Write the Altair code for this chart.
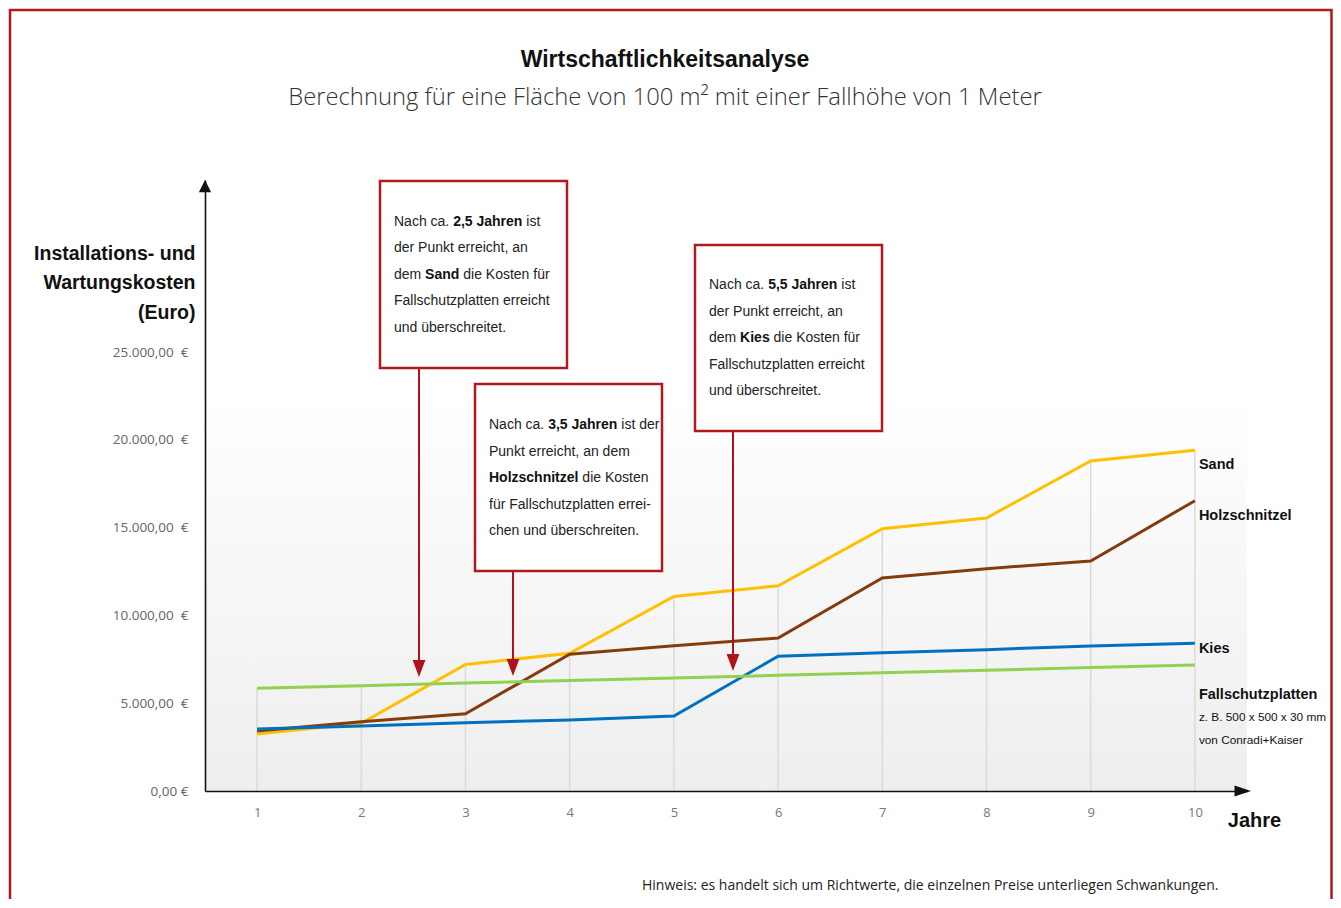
import altair as alt
import pandas as pd

# ---------------- data ----------------
years = [1, 2, 3, 4, 5, 6, 7, 8, 9, 10]
series_names = ["Sand", "Holzschnitzel", "Kies", "Fallschutzplatten"]
series_colors = ["#FFC000", "#843C0C", "#0070C0", "#92D050"]
sand = [3250, 3860, 7210, 7840, 11080, 11690, 14940, 15550, 18790, 19400]
holzschnitzel = [3420, 3950, 4400, 7790, 8270, 8710, 12130, 12660, 13100, 16530]
kies = [3530, 3700, 3890, 4040, 4270, 7670, 7880, 8050, 8260, 8410]
fallschutzplatten = [5850, 6000, 6145, 6290, 6440, 6585, 6730, 6880, 7030, 7175]
y_ticks = [0, 5000, 10000, 15000, 20000, 25000]
y_tick_labels = ["0,00\u00a0€", "5.000,00\u00a0\u00a0€", "10.000,00\u00a0\u00a0€",
                 "15.000,00\u00a0\u00a0€", "20.000,00\u00a0\u00a0€", "25.000,00\u00a0\u00a0€"]

title_text = "Wirtschaftlichkeitsanalyse"
subtitle_text = "Berechnung für eine Fläche von 100 m² mit einer Fallhöhe von 1 Meter"
y_title = ["Installations- und", "Wartungskosten", "(Euro)"]
x_title = "Jahre"
footnote = "Hinweis: es handelt sich um Richtwerte, die einzelnen Preise unterliegen Schwankungen."

# annotation texts: list of lines, each a list of (text, bold)
notes = [
    [[("Nach ca.", False), ("2,5 Jahren", True), ("ist", False)],
     [("der Punkt erreicht, an", False)],
     [("dem", False), ("Sand", True), ("die Kosten für", False)],
     [("Fallschutzplatten erreicht", False)],
     [("und überschreitet.", False)]],
    [[("Nach ca.", False), ("3,5 Jahren", True), ("ist der", False)],
     [("Punkt erreicht, an dem", False)],
     [("Holzschnitzel", True), ("die Kosten", False)],
     [("für Fallschutzplatten errei-", False)],
     [("chen und überschreiten.", False)]],
    [[("Nach ca.", False), ("5,5 Jahren", True), ("ist", False)],
     [("der Punkt erreicht, an", False)],
     [("dem", False), ("Kies", True), ("die Kosten für", False)],
     [("Fallschutzplatten erreicht", False)],
     [("und überschreitet.", False)]],
]

# ---------------- layout ----------------
PLOT_LEFT, PLOT_TOP, W, H = 205, 180, 1042, 611
X_MIN, X_MAX = 0.5, 10.5
PX_PER_EUR = 439 / 25000
Y_MAX = H / PX_PER_EUR


def xd(px):
    return X_MIN + (px - PLOT_LEFT) * (X_MAX - X_MIN) / W


def yd(py):
    return (PLOT_TOP + H - py) / PX_PER_EUR


RED = "#B3181D"
COND = "Liberation Sans"
SANS = "Open Sans"

# approximate advance widths (Liberation Sans / Arial metrics, per 1000 em)
_REG = {" ": 278, ",": 278, ".": 278, "-": 333, "+": 584}
for c in "0123456789":
    _REG[c] = 556
_REG.update({"N": 722, "P": 667, "F": 611, "H": 722, "K": 667, "S": 667, "J": 500,
             "a": 556, "b": 556, "c": 500, "d": 556, "e": 556, "f": 278, "g": 556, "h": 556,
             "i": 222, "j": 222, "k": 500, "l": 222, "m": 833, "n": 556, "o": 556, "p": 556,
             "r": 333, "s": 500, "t": 278, "u": 556, "ü": 556, "v": 500, "w": 722, "x": 500,
             "y": 500, "z": 500})
_BOLD = dict(_REG)
_BOLD.update({"J": 556, "K": 722, "H": 722, "S": 667, "b": 611, "c": 556, "d": 611,
              "f": 333, "g": 611, "h": 611, "i": 278, "j": 278, "k": 556, "l": 278,
              "m": 889, "n": 611, "o": 611, "p": 611, "r": 389, "s": 556, "t": 333, "u": 611})


def text_width(s, bold, size):
    tbl = _BOLD if bold else _REG
    return sum(tbl.get(ch, 556) for ch in s) / 1000 * size


NOTE_SIZE = 14
box_px = [(380, 181, 567, 368), (475, 384, 662, 571), (695, 245, 882, 431)]
text_origin = [(394, 221.5), (489, 425), (709, 285)]
LINE_H = 26.6

XS = alt.Scale(domain=[X_MIN, X_MAX], nice=False, zero=False)
YS = alt.Scale(domain=[0, Y_MAX], nice=False)

label_expr = " : ".join(
    f"datum.value == {v} ? '{t}'" for v, t in zip(y_ticks, y_tick_labels)
) + " : ''"

XAXIS = alt.Axis(values=years, ticks=False, grid=False, domainColor="#111", domainWidth=1.6,
                 labelFont=SANS, labelFontSize=13, labelColor="#777", labelPadding=15,
                 title=x_title, titleFont=COND, titleFontSize=20, titleFontWeight="bold",
                 titleColor="#111", titleX=1049, titleY=29, titleAlign="center",
                 titleBaseline="middle", titleAnchor="start", zindex=1)
YAXIS = alt.Axis(values=y_ticks, labelExpr=label_expr, ticks=False, grid=False,
                 domainColor="#111", domainWidth=1.6,
                 labelFont=SANS, labelFontSize=13.5, labelColor="#666", labelPadding=17,
                 title=y_title, titleFont=COND, titleFontSize=19.5, titleFontWeight="bold",
                 titleColor="#111", titleAngle=0, titleAlign="right", titleBaseline="middle",
                 titleX=-10, titleY=73, titleLineHeight=29.5, titleAnchor="start", zindex=1)


def X(field):
    return alt.X(field, type="quantitative", scale=XS, axis=XAXIS)


def Y(field):
    return alt.Y(field, type="quantitative", scale=YS, axis=YAXIS)


# long data
rows = []
for name, vals in zip(series_names, [sand, holzschnitzel, kies, fallschutzplatten]):
    for yr, v in zip(years, vals):
        rows.append({"year": yr, "value": v, "series": name})
df = pd.DataFrame(rows)
grid_df = df.groupby("year", as_index=False)["value"].max()
grid_df["zero"] = 0

# background gradient
bg_df = pd.DataFrame({"x": [X_MIN], "x2": [X_MAX], "y": [0], "y2": [yd(390)]})
grad = alt.Gradient(gradient="linear",
                    stops=[alt.GradientStop(color="#ffffff", offset=0),
                           alt.GradientStop(color="#eeeeee", offset=1)],
                    x1=0, x2=0, y1=0, y2=1)
bg = alt.Chart(bg_df).mark_rect(fill=grad).encode(x=X("x"), x2="x2", y=Y("y"), y2="y2")

grid = alt.Chart(grid_df).mark_rule(color="#dadada", strokeWidth=1.5).encode(
    x=X("year"), y=Y("zero"), y2="value")

lines = alt.Chart(df).mark_line(strokeWidth=3).encode(
    x=X("year"), y=Y("value"),
    color=alt.Color("series:N", scale=alt.Scale(domain=series_names, range=series_colors), legend=None),
    order=alt.Order("year:Q"))

last = df[df["year"] == 10]


def series_label(name, text, dy, size=14.5, weight="bold"):
    return alt.Chart(last[last["series"] == name]).mark_text(
        align="left", baseline="middle", dx=4, dy=dy, font=COND, fontSize=size,
        fontWeight=weight, color="#111").encode(x=X("year"), y=Y("value"), text=alt.value(text))


labels = [
    series_label("Sand", "Sand", 15),
    series_label("Holzschnitzel", "Holzschnitzel", 15),
    series_label("Kies", "Kies", 6),
    series_label("Fallschutzplatten", "Fallschutzplatten", 30),
    series_label("Fallschutzplatten", "z. B. 500 x 500 x 30 mm", 52, 11.8, "normal"),
    series_label("Fallschutzplatten", "von Conradi+Kaiser", 75, 11.8, "normal"),
]

# frame around the whole graphic
frame_df = pd.DataFrame({"x": [xd(10)], "x2": [xd(1331.5)], "y": [yd(10)], "y2": [yd(940)]})
frame = alt.Chart(frame_df).mark_rect(fill="white", fillOpacity=0, stroke=RED, strokeWidth=2.5).encode(
    x=X("x"), x2="x2", y=Y("y"), y2="y2")

box_df = pd.DataFrame({"x": [xd(b[0]) for b in box_px], "x2": [xd(b[2]) for b in box_px],
                       "y": [yd(b[1]) for b in box_px], "y2": [yd(b[3]) for b in box_px]})
boxes = alt.Chart(box_df).mark_rect(fill="white", stroke=RED, strokeWidth=2.5).encode(
    x=X("x"), x2="x2", y=Y("y"), y2="y2")

arrow_px = [(419, 368, 677), (513, 571, 676), (733, 431, 671)]
shaft_df = pd.DataFrame({"x": [xd(a[0]) for a in arrow_px], "y": [yd(a[1]) for a in arrow_px],
                         "y2": [yd(a[2] - 14) for a in arrow_px]})
tip_df = pd.DataFrame({"x": [xd(a[0]) for a in arrow_px], "y": [yd(a[2]) for a in arrow_px]})
shafts = alt.Chart(shaft_df).mark_rule(color="#B0121B", strokeWidth=2).encode(x=X("x"), y=Y("y"), y2="y2")
tips = alt.Chart(tip_df).mark_point(shape="M0,0L-0.75,-2L0.75,-2Z", size=289, filled=True,
                                    color="#B0121B", opacity=1, strokeWidth=0).encode(x=X("x"), y=Y("y"))

# text segments laid out from estimated widths
seg_rows = []
for (ox, oy), note in zip(text_origin, notes):
    for li, line in enumerate(note):
        cx = ox
        for txt, bold in line:
            seg_rows.append({"x": xd(cx), "y": yd(oy + li * LINE_H), "text": txt,
                             "bold": "bold" if bold else "normal"})
            cx += text_width(txt, bold, NOTE_SIZE) + text_width(" ", False, NOTE_SIZE)
seg_df = pd.DataFrame(seg_rows)
seg_normal = alt.Chart(seg_df[seg_df["bold"] == "normal"]).mark_text(
    align="left", baseline="middle", font=COND, fontSize=NOTE_SIZE, color="#222").encode(
    x=X("x"), y=Y("y"), text="text:N")
seg_bold = alt.Chart(seg_df[seg_df["bold"] == "bold"]).mark_text(
    align="left", baseline="middle", font=COND, fontSize=NOTE_SIZE, fontWeight="bold", color="#111").encode(
    x=X("x"), y=Y("y"), text="text:N")

# axis arrow heads
yarrow = alt.Chart(pd.DataFrame({"x": [X_MIN], "y": [Y_MAX]})).mark_point(
    shape="M0,0L1,2L-1,2Z", size=150, filled=True, color="#111", opacity=1, strokeWidth=0).encode(
    x=X("x"), y=Y("y"))
xarrow = alt.Chart(pd.DataFrame({"x": [xd(1251)], "y": [0]})).mark_point(
    shape="M0,0L-3,-1L-3,1Z", size=121, filled=True, color="#111", opacity=1, strokeWidth=0).encode(
    x=X("x"), y=Y("y"))

foot = alt.Chart(pd.DataFrame({"x": [xd(642)], "y": [yd(886)], "t": [footnote]})).mark_text(
    align="left", baseline="middle", font=SANS, fontSize=14, color="#222").encode(
    x=X("x"), y=Y("y"), text="t:N")

# title and subtitle as text marks
ttl = alt.Chart(pd.DataFrame({"x": [xd(665)], "y": [yd(60)], "t": [title_text]})).mark_text(
    align="center", baseline="middle", font=COND, fontSize=23, fontWeight="bold", color="#111").encode(
    x=X("x"), y=Y("y"), text="t:N")
sub = alt.Chart(pd.DataFrame({"x": [xd(665)], "y": [yd(98)], "t": [subtitle_text]})).mark_text(
    align="center", baseline="middle", font=SANS, fontSize=23.8, fontWeight=300, color="#333").encode(
    x=X("x"), y=Y("y"), text="t:N")

chart = alt.layer(
    bg, grid, frame, lines, *labels, shafts, tips, boxes, seg_normal, seg_bold,
    yarrow, xarrow, foot, ttl, sub
).properties(
    width=W, height=H,
    autosize=alt.AutoSizeParams(type="none"),
    padding={"left": PLOT_LEFT - 8, "top": PLOT_TOP - 8, "right": 86, "bottom": 108},
).configure_view(stroke=None)

chart.save("out.html", embed_options={"renderer": "svg", "actions": False})
